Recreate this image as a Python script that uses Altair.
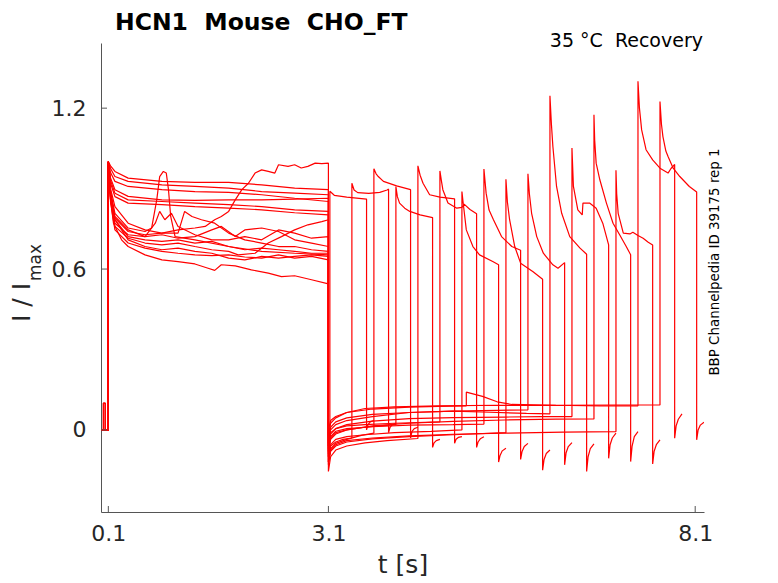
import altair as alt
import pandas as pd

# ---------------- data ----------------
XTICKS = [0.1, 3.1, 8.1]
YTICKS = [0.0, 0.6, 1.2]

# holding period before the activating step (a few sweeps have a brief blip)
PRE = [[(0.0, 0.0), (0.1, 0.0)] for _ in range(16)]
PRE[3] = [(0.0, 0.0), (0.03, 0.0), (0.03, 0.1), (0.055, 0.1), (0.055, 0.0), (0.1, 0.0)]
PRE[9] = [(0.0, 0.0), (0.035, 0.0), (0.035, 0.1), (0.06, 0.1), (0.06, 0.0), (0.1, 0.0)]

# first (activating) pulse 0.1 - 3.1 s, one list of (t, I) per sweep
FIRST = [
    [(0.10, 1.0), (0.13, 0.985), (0.19, 0.964), (0.37, 0.939), (0.83, 0.927), (1.28, 0.923), (1.74, 0.923), (2.19, 0.914), (2.64, 0.902), (3.10, 0.896)],
    [(0.10, 1.0), (0.13, 0.88), (0.19, 0.79), (0.37, 0.740), (0.60, 0.728), (0.83, 0.734), (1.05, 0.746), (1.28, 0.753), (1.42, 0.759), (1.55, 0.784), (1.64, 0.796), (1.74, 0.815), (1.83, 0.858), (1.92, 0.896), (2.01, 0.920), (2.10, 0.958), (2.19, 0.970), (2.28, 0.964), (2.37, 0.958), (2.42, 0.989), (2.55, 0.983), (2.64, 0.989), (2.73, 0.977), (2.82, 0.983), (2.92, 0.995), (3.01, 0.993), (3.10, 0.995)],
    [(0.10, 1.0), (0.13, 0.975), (0.19, 0.945), (0.37, 0.927), (0.83, 0.914), (1.28, 0.908), (1.74, 0.902), (2.19, 0.889), (2.64, 0.883), (3.10, 0.877)],
    [(0.10, 1.0), (0.13, 0.89), (0.19, 0.808), (0.37, 0.753), (0.60, 0.740), (0.69, 0.753), (0.76, 0.858), (0.80, 0.945), (0.85, 0.964), (0.89, 0.958), (0.92, 0.896), (0.95, 0.796), (1.01, 0.721), (1.28, 0.709), (1.74, 0.684), (2.19, 0.666), (2.64, 0.659), (3.10, 0.653)],
    [(0.10, 1.0), (0.13, 0.96), (0.19, 0.927), (0.37, 0.908), (0.83, 0.896), (1.28, 0.889), (1.74, 0.886), (2.19, 0.877), (2.64, 0.864), (3.10, 0.852)],
    [(0.10, 1.0), (0.13, 0.86), (0.19, 0.771), (0.37, 0.728), (0.60, 0.721), (0.74, 0.771), (0.80, 0.815), (0.87, 0.784), (0.96, 0.808), (1.05, 0.759), (1.28, 0.728), (1.51, 0.709), (1.74, 0.709), (1.96, 0.721), (2.19, 0.709), (2.42, 0.746), (2.64, 0.734), (2.87, 0.715), (3.10, 0.721)],
    [(0.10, 1.0), (0.13, 0.94), (0.19, 0.896), (0.37, 0.871), (0.83, 0.858), (1.28, 0.856), (1.74, 0.858), (2.19, 0.858), (2.64, 0.861), (3.10, 0.864)],
    [(0.10, 1.0), (0.13, 0.86), (0.17, 0.771), (0.28, 0.709), (0.37, 0.684), (0.60, 0.653), (0.83, 0.634), (1.05, 0.628), (1.28, 0.619), (1.46, 0.603), (1.55, 0.595), (1.64, 0.616), (1.83, 0.612), (2.05, 0.597), (2.28, 0.585), (2.46, 0.572), (2.64, 0.575), (2.87, 0.560), (3.10, 0.545)],
    [(0.10, 1.0), (0.13, 0.93), (0.19, 0.883), (0.37, 0.858), (0.83, 0.852), (1.28, 0.846), (1.74, 0.840), (2.19, 0.833), (2.64, 0.821), (3.10, 0.815)],
    [(0.10, 1.0), (0.13, 0.85), (0.19, 0.746), (0.37, 0.697), (0.60, 0.678), (0.83, 0.666), (1.05, 0.659), (1.28, 0.653), (1.51, 0.650), (1.74, 0.653), (1.96, 0.645), (2.19, 0.641), (2.42, 0.653), (2.64, 0.641), (2.87, 0.647), (3.10, 0.634)],
    [(0.10, 1.0), (0.13, 0.92), (0.19, 0.870), (0.37, 0.846), (0.83, 0.840), (1.28, 0.833), (1.74, 0.827), (2.19, 0.821), (2.64, 0.810), (3.10, 0.802)],
    [(0.10, 1.0), (0.13, 0.87), (0.19, 0.784), (0.37, 0.721), (0.60, 0.709), (0.83, 0.703), (1.05, 0.709), (1.28, 0.697), (1.51, 0.703), (1.74, 0.684), (1.96, 0.672), (2.19, 0.678), (2.42, 0.672), (2.64, 0.666), (2.87, 0.659), (3.10, 0.659)],
    [(0.10, 1.0), (0.13, 0.86), (0.19, 0.759), (0.37, 0.715), (0.60, 0.697), (0.83, 0.690), (1.05, 0.697), (1.28, 0.684), (1.51, 0.672), (1.74, 0.666), (1.87, 0.653), (2.10, 0.659), (2.28, 0.697), (2.46, 0.721), (2.64, 0.746), (2.82, 0.765), (3.01, 0.777), (3.10, 0.784)],
    [(0.10, 1.0), (0.13, 0.88), (0.19, 0.796), (0.37, 0.746), (0.60, 0.721), (0.83, 0.728), (1.05, 0.715), (1.28, 0.721), (1.51, 0.746), (1.64, 0.759), (1.83, 0.721), (1.96, 0.746), (2.19, 0.753), (2.42, 0.740), (2.64, 0.709), (2.87, 0.697), (3.10, 0.684)],
    [(0.10, 1.0), (0.13, 0.90), (0.19, 0.833), (0.37, 0.771), (0.60, 0.746), (0.83, 0.734), (1.05, 0.734), (1.14, 0.815), (1.24, 0.796), (1.37, 0.784), (1.55, 0.771), (1.74, 0.734), (1.96, 0.709), (2.19, 0.697), (2.42, 0.684), (2.64, 0.684), (2.87, 0.672), (3.10, 0.666)],
    [(0.10, 1.0), (0.13, 0.87), (0.19, 0.784), (0.37, 0.709), (0.60, 0.684), (0.83, 0.672), (1.05, 0.678), (1.28, 0.666), (1.51, 0.659), (1.74, 0.641), (1.96, 0.634), (2.19, 0.647), (2.42, 0.641), (2.64, 0.647), (2.87, 0.653), (3.10, 0.647)],
]

# recovery interval at the holding potential (3.1 s -> start of test pulse)
GAP = [
    [(3.10, -0.09), (3.12, -0.06)],
    [(3.10, -0.10), (3.13, -0.06), (3.20, -0.045), (3.30, -0.035), (3.42, -0.03)],
    [(3.10, -0.12), (3.13, -0.07), (3.20, -0.05), (3.35, -0.035), (3.55, -0.02), (3.72, -0.012)],
    [(3.10, -0.08), (3.13, -0.03), (3.20, -0.01), (3.35, 0.0), (3.60, 0.01), (3.80, 0.015), (4.02, 0.02)],
    [(3.10, -0.155), (3.13, -0.10), (3.20, -0.075), (3.35, -0.06), (3.60, -0.048), (3.90, -0.04), (4.32, -0.032)],
    [(3.10, -0.06), (3.13, -0.01), (3.20, 0.005), (3.35, 0.015), (3.60, 0.02), (4.00, 0.025), (4.62, 0.03)],
    [(3.10, -0.10), (3.13, -0.055), (3.20, -0.035), (3.35, -0.025), (3.60, -0.018), (4.00, -0.01), (4.50, -0.005), (4.92, 0.0)],
    [(3.10, -0.07), (3.13, -0.025), (3.20, -0.005), (3.35, 0.005), (3.70, 0.012), (4.20, 0.018), (4.80, 0.02), (5.22, 0.022)],
    [(3.10, -0.13), (3.13, -0.08), (3.20, -0.06), (3.35, -0.045), (3.70, -0.033), (4.20, -0.025), (4.80, -0.018), (5.52, -0.01)],
    [(3.10, -0.04), (3.13, 0.01), (3.20, 0.03), (3.35, 0.045), (3.70, 0.058), (4.20, 0.065), (4.80, 0.07), (5.40, 0.073), (5.82, 0.075)],
    [(3.10, -0.05), (3.13, 0.0), (3.20, 0.02), (3.35, 0.035), (3.70, 0.05), (4.20, 0.065), (4.80, 0.07), (5.30, 0.066), (5.80, 0.062), (6.12, 0.06)],
    [(3.10, -0.06), (3.13, -0.015), (3.20, 0.005), (3.35, 0.02), (3.70, 0.033), (4.20, 0.042), (4.80, 0.046), (5.50, 0.048), (6.00, 0.05), (6.42, 0.05)],
    [(3.10, -0.08), (3.13, -0.035), (3.20, -0.015), (3.35, 0.0), (3.70, 0.015), (4.20, 0.025), (4.80, 0.032), (5.50, 0.037), (6.20, 0.04), (6.72, 0.041)],
    [(3.10, -0.12), (3.13, -0.075), (3.20, -0.055), (3.35, -0.04), (3.70, -0.03), (4.20, -0.022), (4.80, -0.016), (5.50, -0.012), (6.30, -0.008), (7.02, -0.006)],
    [(3.10, 0.0), (3.13, 0.035), (3.20, 0.05), (3.35, 0.065), (3.70, 0.078), (4.20, 0.085), (4.60, 0.088), (4.98, 0.09), (4.98, 0.141), (5.20, 0.125), (5.40, 0.105), (5.60, 0.095), (6.20, 0.092), (6.80, 0.09), (7.32, 0.09)],
    [(3.10, -0.02), (3.13, 0.025), (3.20, 0.045), (3.35, 0.065), (3.60, 0.08), (4.00, 0.086), (4.60, 0.09), (5.40, 0.092), (6.20, 0.092), (7.00, 0.093), (7.62, 0.093)],
]

# second (test) pulse, 0.5 s long
SECOND = [
    [(3.12, 0.89), (3.18, 0.875), (3.35, 0.868), (3.62, 0.861)],
    [(3.42, 0.92), (3.45, 0.895), (3.50, 0.885), (3.65, 0.882), (3.80, 0.886), (3.90, 0.895), (3.92, 0.898)],
    [(3.72, 0.974), (3.75, 0.955), (3.78, 0.945), (3.85, 0.927), (4.03, 0.91), (4.22, 0.896)],
    [(4.02, 0.908), (4.04, 0.87), (4.07, 0.846), (4.14, 0.827), (4.21, 0.815), (4.35, 0.802), (4.52, 0.792)],
    [(4.32, 0.985), (4.35, 0.95), (4.39, 0.92), (4.48, 0.877), (4.62, 0.868), (4.82, 0.862)],
    [(4.62, 0.966), (4.64, 0.93), (4.66, 0.896), (4.73, 0.846), (4.85, 0.827), (4.92, 0.83), (4.95, 0.842), (5.03, 0.822), (5.12, 0.806)],
    [(4.92, 0.889), (4.94, 0.84), (4.98, 0.746), (5.07, 0.684), (5.16, 0.653), (5.34, 0.628), (5.42, 0.616)],
    [(5.22, 0.973), (5.25, 0.883), (5.29, 0.82), (5.35, 0.784), (5.46, 0.721), (5.60, 0.684), (5.72, 0.67)],
    [(5.52, 0.935), (5.54, 0.85), (5.57, 0.784), (5.64, 0.684), (5.72, 0.622), (5.89, 0.59), (6.02, 0.562)],
    [(5.82, 0.955), (5.84, 0.88), (5.87, 0.808), (5.94, 0.721), (6.03, 0.659), (6.16, 0.616), (6.23, 0.603), (6.32, 0.624)],
    [(6.12, 1.246), (6.14, 1.14), (6.16, 1.057), (6.21, 0.908), (6.28, 0.808), (6.39, 0.721), (6.53, 0.678), (6.62, 0.655)],
    [(6.42, 1.051), (6.44, 0.908), (6.50, 0.821), (6.56, 0.802), (6.57, 0.846), (6.66, 0.846), (6.75, 0.827), (6.84, 0.771), (6.92, 0.69)],
    [(6.72, 1.175), (6.73, 1.08), (6.75, 0.995), (6.80, 0.933), (6.89, 0.846), (6.98, 0.771), (7.07, 0.728), (7.16, 0.684), (7.22, 0.653)],
    [(7.02, 0.968), (7.03, 0.88), (7.05, 0.808), (7.12, 0.734), (7.21, 0.731), (7.25, 0.737), (7.32, 0.725), (7.39, 0.715), (7.46, 0.70), (7.52, 0.69)],
    [(7.32, 1.30), (7.34, 1.20), (7.37, 1.119), (7.43, 1.045), (7.52, 1.007), (7.62, 0.976), (7.73, 0.958), (7.77, 0.975), (7.82, 0.99)],
    [(7.62, 1.225), (7.64, 1.14), (7.66, 1.094), (7.70, 1.04), (7.73, 1.02), (7.80, 0.976), (7.89, 0.945), (8.02, 0.908), (8.12, 0.887)],
]

# tail currents after the test pulse
TAIL = [
    [(3.62, 0.0), (3.64, 0.02), (3.67, 0.03), (3.72, 0.035)],
    [(3.92, -0.01), (3.94, 0.01), (3.97, 0.02), (4.02, 0.025)],
    [(4.22, -0.03), (4.24, -0.005), (4.27, 0.005), (4.32, 0.01)],
    [(4.52, -0.065), (4.54, -0.048), (4.57, -0.04), (4.62, -0.035)],
    [(4.82, -0.05), (4.84, -0.035), (4.87, -0.028), (4.92, -0.025)],
    [(5.12, -0.065), (5.14, -0.045), (5.17, -0.033), (5.22, -0.025)],
    [(5.42, -0.12), (5.44, -0.095), (5.47, -0.078), (5.52, -0.068)],
    [(5.72, -0.11), (5.74, -0.08), (5.77, -0.062), (5.82, -0.05)],
    [(6.02, -0.15), (6.04, -0.11), (6.07, -0.088), (6.12, -0.075)],
    [(6.32, -0.13), (6.34, -0.085), (6.37, -0.062), (6.42, -0.047)],
    [(6.62, -0.155), (6.64, -0.10), (6.67, -0.07), (6.72, -0.052)],
    [(6.92, -0.106), (6.94, -0.055), (6.97, -0.03), (7.02, -0.012)],
    [(7.22, -0.118), (7.24, -0.06), (7.27, -0.025), (7.32, -0.006)],
    [(7.52, -0.127), (7.54, -0.08), (7.57, -0.055), (7.62, -0.037)],
    [(7.82, -0.031), (7.84, 0.015), (7.87, 0.04), (7.92, 0.06)],
    [(8.12, -0.037), (8.14, 0.0), (8.17, 0.018), (8.22, 0.029)],
]

TITLE = "HCN1\u00a0\u00a0Mouse\u00a0\u00a0CHO_FT"
SUBTITLE = "35 \u00b0C\u00a0\u00a0Recovery"
SIDE = "BBP Channelpedia ID 39175 rep 1"

# ---------------- build table ----------------
rows = []
for k in range(16):
    pts = PRE[k] + FIRST[k] + GAP[k] + SECOND[k] + TAIL[k]
    for j, (t, i) in enumerate(pts):
        rows.append({"sweep": k, "idx": j, "t": t, "I": i})
df = pd.DataFrame(rows)

W, H = 603, 469
FONT = "DejaVu Sans"
AX = "#555555"
TXT = "#262626"

xscale = alt.Scale(domain=[0, 8.22], nice=False, zero=False)
yscale = alt.Scale(domain=[-0.306, 1.443], nice=False, zero=False)

lines = alt.Chart(df).mark_line(color="#ff0000", strokeWidth=1.2, clip=True, strokeJoin="bevel").encode(
    x=alt.X("t:Q", scale=xscale,
            axis=alt.Axis(values=XTICKS, format=".1f", title=None, grid=False, ticks=False, tickSize=0,
                          labelPadding=11, labelFontSize=22, labelFont=FONT, labelColor=TXT,
                          domainColor=AX, labelFlush=False)),
    y=alt.Y("I:Q", scale=yscale,
            axis=alt.Axis(values=YTICKS, title=None, grid=False, ticks=False, tickSize=0,
                          labelExpr="datum.value == 0 ? '0' : format(datum.value, '.1f')",
                          labelPadding=15, labelFontSize=22, labelFont=FONT, labelColor=TXT,
                          domainColor=AX, labelFlush=False)),
    detail="sweep:N",
    order="idx:Q",
)

xt = alt.Chart(pd.DataFrame({"t": XTICKS})).mark_rule(color=AX, strokeWidth=1).encode(
    x="t:Q", y=alt.value(H), y2=alt.value(H - 6))
yt = alt.Chart(pd.DataFrame({"I": YTICKS})).mark_rule(color=AX, strokeWidth=1).encode(
    y="I:Q", x=alt.value(0), x2=alt.value(6))

one = pd.DataFrame({"a": [0]})


def label(text, x, y, size, **kw):
    return alt.Chart(one).mark_text(font=FONT, fontSize=size, color=kw.pop("color", "#000000"), **kw).encode(
        x=alt.value(x), y=alt.value(y), text=alt.value(text))


title = label(TITLE, 14, -13, 23.5, align="left", baseline="alphabetic", fontWeight="bold")
sub = label(SUBTITLE, 602, 4, 19, align="right", baseline="alphabetic")
side = label(SIDE, 614, 219, 13.4, align="center", baseline="middle", angle=270)
xlab = label("t [s]", 302, 522, 25, align="center", baseline="middle", color=TXT)
ylab1 = label("I / I", -71, 279, 25, align="left", baseline="alphabetic", angle=270, color=TXT)
ylab2 = label("max", -60, 238, 17, align="left", baseline="alphabetic", angle=270, color=TXT)

chart = alt.layer(lines, xt, yt, title, sub, side, xlab, ylab1, ylab2).properties(
    width=W, height=H,
    autosize=alt.AutoSizeParams(type="none"),
    padding={"left": 93, "top": 35, "right": 66, "bottom": 70},
).configure_view(stroke=None).configure_axis(domainWidth=1)

chart.save("out.html", embed_options={"renderer": "svg", "actions": False})
